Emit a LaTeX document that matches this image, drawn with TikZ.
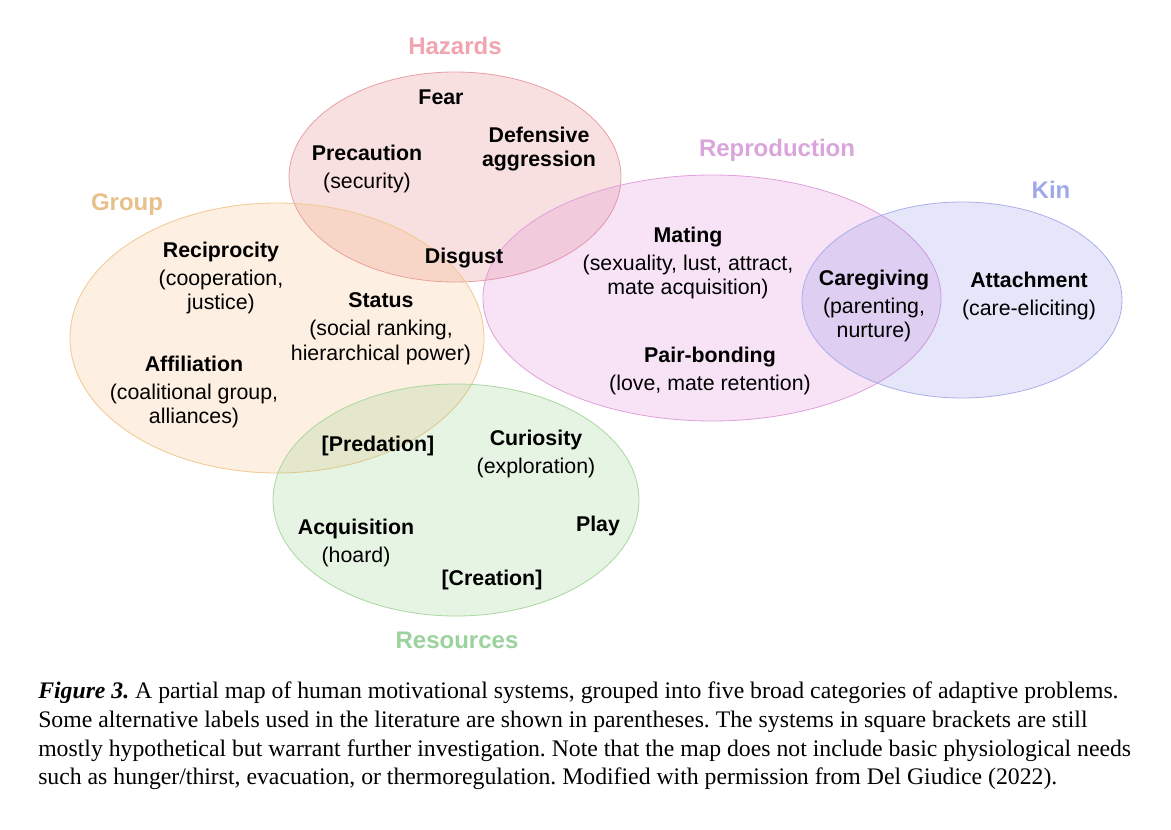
\documentclass[tikz,border=0pt]{standalone}
\usepackage{fontspec}
\setmainfont{Liberation Sans}
\newfontfamily\capfont{Liberation Serif}
\definecolor{hazcol}{RGB}{224,102,102}
\definecolor{hazline}{RGB}{232,160,165}
\definecolor{hazlab}{RGB}{240,165,175}
\definecolor{grpcol}{RGB}{246,178,107}
\definecolor{grpline}{RGB}{240,200,145}
\definecolor{grplab}{RGB}{232,192,138}
\definecolor{repcol}{RGB}{215,115,205}
\definecolor{repline}{RGB}{225,160,220}
\definecolor{replab}{RGB}{218,165,218}
\definecolor{kincol}{RGB}{125,130,230}
\definecolor{kinline}{RGB}{170,175,232}
\definecolor{kinlab}{RGB}{160,168,235}
\definecolor{rescol}{RGB}{130,200,115}
\definecolor{resline}{RGB}{170,215,160}
\definecolor{reslab}{RGB}{155,210,158}
\begin{document}
\frenchspacing
\begin{tikzpicture}[x=0.75pt,y=-0.75pt,
  sys/.style={align=center,inner sep=0pt,font=\fontsize{16}{18.4}\selectfont},
  cat/.style={inner sep=0pt,font=\fontsize{18}{22}\selectfont\bfseries},
  area/.style={line width=0.6pt,fill opacity=0.2}]
\useasboundingbox (0,0) rectangle (1171,830);
\fill[white] (0,0) rectangle (1171,830);

% the five categories
\draw[area,draw=hazline,fill=hazcol] (455,177) ellipse [x radius=166,y radius=105];
\draw[area,draw=grpline,fill=grpcol] (277,338) ellipse [x radius=207,y radius=135];
\draw[area,draw=repline,fill=repcol] (712,298) ellipse [x radius=229,y radius=123];
\draw[area,draw=kinline,fill=kincol] (962,300) ellipse [x radius=160,y radius=98];
\draw[area,draw=resline,fill=rescol] (456,500) ellipse [x radius=183,y radius=116];

\node[cat,text=hazlab] (haz) at (455,46) {Hazards};
\node[cat,text=grplab] (grp) at (127,205) {Group};
\node[cat,text=replab] (rep) at (777,150) {Reproduction};
\node[cat,text=kinlab] (kin) at (1051,190) {Kin};
\node[cat,text=reslab] (res) at (457,640) {Resources};

% systems
\node[sys] (fear) at (441,97) {\textbf{Fear}};
\node[sys] (defagg) at (539,149) {\textbf{Defensive}\\\textbf{aggression}};
\node[sys] (prec) at (367,169) {\textbf{Precaution}\\[2.6pt](security)};
\node[sys] (disg) at (464,258) {\textbf{Disgust}};
\node[sys] (recip) at (221,278) {\textbf{Reciprocity}\\[2.6pt](cooperation,\\justice)};
\node[sys] (stat) at (381,329) {\textbf{Status}\\[2.6pt](social ranking,\\hierarchical power)};
\node[sys] (affil) at (194,392) {\textbf{Affiliation}\\[2.6pt](coalitional group,\\alliances)};
\node[sys] (mat) at (688,263) {\textbf{Mating}\\[2.6pt](sexuality, lust, attract,\\mate acquisition)};
\node[sys] (care) at (874,306) {\textbf{Caregiving}\\[2.6pt](parenting,\\nurture)};
\node[sys] (attach) at (1029,296) {\textbf{Attachment}\\[2.6pt](care-eliciting)};
\node[sys] (pair) at (710,371) {\textbf{Pair-bonding}\\[2.6pt](love, mate retention)};
\node[sys] (pred) at (378,446) {\textbf{[Predation]}};
\node[sys] (curio) at (536,454) {\textbf{Curiosity}\\[2.6pt](exploration)};
\node[sys] (play) at (598,526) {\textbf{Play}};
\node[sys] (acq) at (356,543) {\textbf{Acquisition}\\[2.6pt](hoard)};
\node[sys] (creat) at (492,580) {\textbf{[Creation]}};

% caption
\node[anchor=north west,align=left,inner sep=0pt,font=\capfont\fontsize{17.8}{21.4}\selectfont] (cap) at (38,682)
 {\textbf{\textit{Figure 3.}} A partial map of human motivational systems, grouped into five broad categories of adaptive problems.\\
  Some alternative labels used in the literature are shown in parentheses. The systems in square brackets are still\\
  mostly hypothetical but warrant further investigation. Note that the map does not include basic physiological needs\\
  such as hunger/thirst, evacuation, or thermoregulation. Modified with permission from Del Giudice (2022).};
\end{tikzpicture}
\end{document}
